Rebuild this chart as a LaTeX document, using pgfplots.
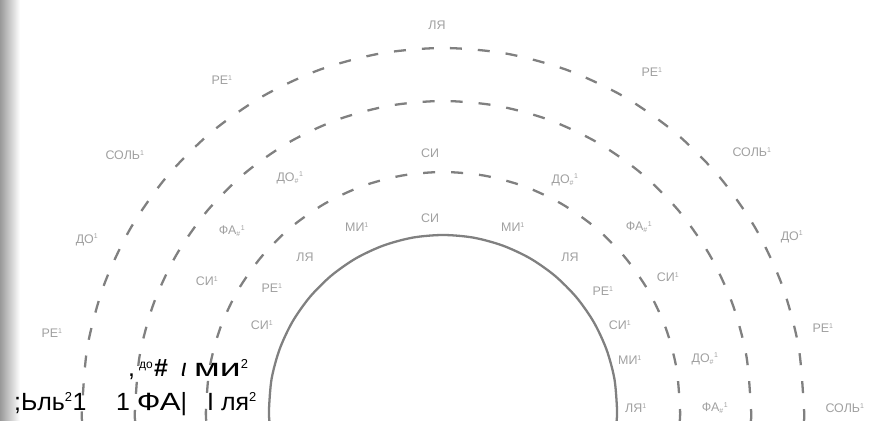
\documentclass[border=0pt]{standalone}
\usepackage{pgfplots}
\pgfplotsset{compat=1.18}
\usepackage{fontspec}
\setmainfont{Liberation Sans}

\definecolor{arcgray}{RGB}{128,128,128}
\definecolor{labgray}{RGB}{160,160,160}
\newcommand\sy[1]{\textsuperscript{\fontsize{7}{7}\selectfont #1}}
\newcommand\sh{\textsubscript{\fontsize{7}{7}\selectfont\#}\sy{1}}
\tikzset{
    lab/.style={font=\fontsize{12.5}{14}\selectfont, text=labgray, inner sep=1pt},
    ocr/.style={font=\fontsize{25}{28}\selectfont, text=black, inner sep=0pt, anchor=base west},
}

\begin{document}
\begin{tikzpicture}
\begin{axis}[
    scale only axis,
    width=871bp, height=421bp,
    xmin=0, xmax=871, ymin=0, ymax=421,
    hide axis,
    clip=true,
]
% scan shadow at the left edge
\addplot[draw=none, left color=black!40, right color=white]
    coordinates {(0,0) (20,0) (20,421) (0,421)} -- cycle;

% solid inner half circle
\addplot[arcgray, line width=2.3pt, smooth] coordinates {
    (616.6,0) (617,12) (614.4,42.2) (606.5,71.5) (593.7,99) (576.3,123.8)
    (554.8,145.3) (530,162.7) (502.5,175.5) (473.2,183.4) (443,186)
    (412.8,183.4) (383.5,175.5) (356,162.7) (331.2,145.3) (309.7,123.8)
    (292.3,99) (279.5,71.5) (271.6,42.2) (269,12) (269.4,0)
};
% dashed half circles
\addplot[arcgray, line width=2.3pt, smooth, dash pattern=on 12bp off 16bp] coordinates {
    (679.7,0) (680,12) (676.4,53.2) (665.7,93.1) (648.2,130.5) (624.5,164.3)
    (595.3,193.5) (561.5,217.2) (524.1,234.7) (484.2,245.4) (443,249)
    (401.8,245.4) (361.9,234.7) (324.5,217.2) (290.7,193.5) (261.5,164.3)
    (237.8,130.5) (220.3,93.1) (209.6,53.2) (206,12) (206.3,0)
};
\addplot[arcgray, line width=2.3pt, smooth, dash pattern=on 12bp off 16bp] coordinates {
    (750.8,0) (751,12) (746.3,65.5) (732.4,117.3) (709.7,166) (678.9,210)
    (641,247.9) (597,278.7) (548.3,301.4) (496.5,315.3) (443,320)
    (389.5,315.3) (337.7,301.4) (289,278.7) (245,247.9) (207.1,210)
    (176.3,166) (153.6,117.3) (139.7,65.5) (135,12) (135.2,0)
};
\addplot[arcgray, line width=2.3pt, smooth, dash pattern=on 12bp off 16bp] coordinates {
    (803.8,0) (804,12) (798.5,74.7) (782.2,135.5) (755.6,192.5) (719.5,244)
    (675,288.5) (623.5,324.6) (566.5,351.2) (505.7,367.5) (443,373)
    (380.3,367.5) (319.5,351.2) (262.5,324.6) (211,288.5) (166.5,244)
    (130.4,192.5) (103.8,135.5) (87.5,74.7) (82,12) (82.2,0)
};

% outer ring labels
\node[lab] at (axis cs:437,396) {ЛЯ};
\node[lab] at (axis cs:222,341) {РЕ\sy{1}};
\node[lab] at (axis cs:652,349) {РЕ\sy{1}};
\node[lab] at (axis cs:125,266) {СОЛЬ\sy{1}};
\node[lab] at (axis cs:752,269) {СОЛЬ\sy{1}};
\node[lab] at (axis cs:87,181) {ДО\sy{1}};
\node[lab] at (axis cs:792,184) {ДО\sy{1}};
\node[lab] at (axis cs:52,88) {РЕ\sy{1}};
\node[lab] at (axis cs:823,93) {РЕ\sy{1}};
\node[lab] at (axis cs:845,13) {СОЛЬ\sy{1}};

% middle ring labels
\node[lab] at (axis cs:430,268) {СИ};
\node[lab] at (axis cs:290,243) {ДО\sh};
\node[lab] at (axis cs:565,241) {ДО\sh};
\node[lab] at (axis cs:232,190) {ФА\sh};
\node[lab] at (axis cs:639,194) {ФА\sh};
\node[lab] at (axis cs:207,140) {СИ\sy{1}};
\node[lab] at (axis cs:668,144) {СИ\sy{1}};
\node[lab] at (axis cs:705,62) {ДО\sh};
\node[lab] at (axis cs:715,13) {ФА\sh};

% inner ring labels
\node[lab] at (axis cs:430,203) {СИ};
\node[lab] at (axis cs:357,194) {МИ\sy{1}};
\node[lab] at (axis cs:513,194) {МИ\sy{1}};
\node[lab] at (axis cs:305,164) {ЛЯ};
\node[lab] at (axis cs:570,164) {ЛЯ};
\node[lab] at (axis cs:272,133) {РЕ\sy{1}};
\node[lab] at (axis cs:603,130) {РЕ\sy{1}};
\node[lab] at (axis cs:262,96) {СИ\sy{1}};
\node[lab] at (axis cs:620,96) {СИ\sy{1}};
\node[lab] at (axis cs:630,61) {МИ\sy{1}};
\node[lab] at (axis cs:636,13) {ЛЯ\sy{1}};

% recognised text laid over the scan
\node[ocr] at (axis cs:128,44) {,};
\node[ocr] at (axis cs:139,44) {\textsuperscript{\fontsize{12}{12}\selectfont до}};
\node[ocr] at (axis cs:154,44) {\bfseries\#};
\node[ocr] at (axis cs:181,44) {\itshape ι};
\node[ocr] at (axis cs:194,44) {\scalebox{1.5}[1]{ми}\textsuperscript{\fontsize{13}{13}\selectfont 2}};
\node[ocr] at (axis cs:14,11) {;Ьль\textsuperscript{\fontsize{13}{13}\selectfont 2}1};
\node[ocr] at (axis cs:116,11) {1 \scalebox{1.25}[1]{ФА}|};
\node[ocr] at (axis cs:207,11) {I};
\node[ocr] at (axis cs:221,11) {ля\textsuperscript{\fontsize{13}{13}\selectfont 2}};
\end{axis}
\pgfresetboundingbox
\path (current axis.south west) rectangle (current axis.north east);
\end{tikzpicture}
\end{document}
